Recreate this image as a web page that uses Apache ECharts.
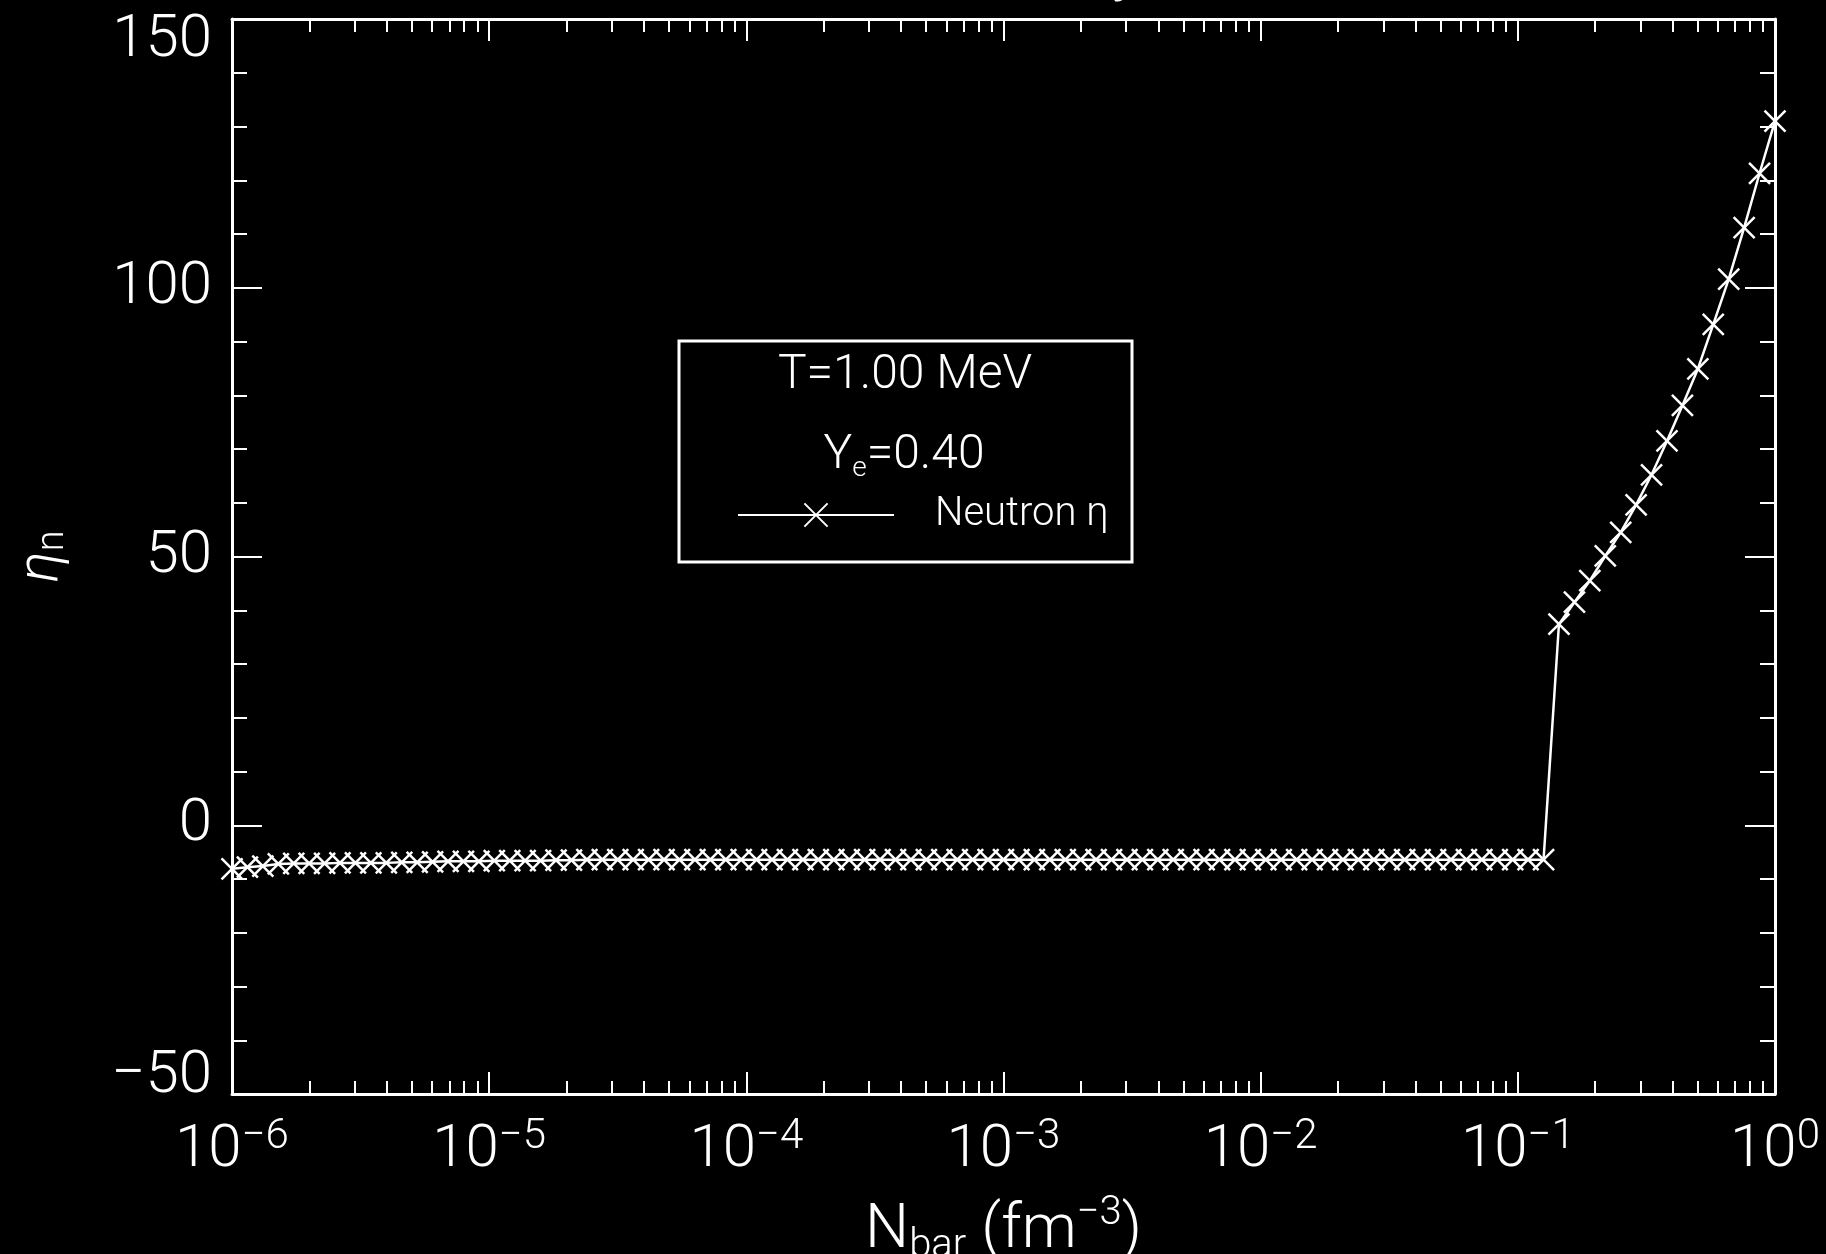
<!DOCTYPE html>
<html>
<head>
<meta charset="utf-8">
<script src="https://cdn.jsdelivr.net/npm/echarts@6/dist/echarts.min.js"></script>
<style>
  html, body { margin: 0; padding: 0; background: #000; }
  #chart { width: 1826px; height: 1254px; }
</style>
</head>
<body>
<div id="chart"></div>
<script>
// Baryon number density grid (fm^-3)
const nbar = [
  1.000e-6, 1.148e-6, 1.318e-6, 1.514e-6, 1.738e-6, 1.995e-6, 2.291e-6, 2.630e-6, 3.020e-6, 3.467e-6,
  3.981e-6, 4.571e-6, 5.248e-6, 6.026e-6, 6.918e-6, 7.943e-6, 9.120e-6, 1.047e-5, 1.202e-5, 1.380e-5,
  1.585e-5, 1.820e-5, 2.089e-5, 2.399e-5, 2.754e-5, 3.162e-5, 3.631e-5, 4.169e-5, 4.786e-5, 5.495e-5,
  6.310e-5, 7.244e-5, 8.318e-5, 9.550e-5, 1.096e-4, 1.259e-4, 1.445e-4, 1.660e-4, 1.905e-4, 2.188e-4,
  2.512e-4, 2.884e-4, 3.311e-4, 3.802e-4, 4.365e-4, 5.012e-4, 5.754e-4, 6.607e-4, 7.586e-4, 8.710e-4,
  1.000e-3, 1.148e-3, 1.318e-3, 1.514e-3, 1.738e-3, 1.995e-3, 2.291e-3, 2.630e-3, 3.020e-3, 3.467e-3,
  3.981e-3, 4.571e-3, 5.248e-3, 6.026e-3, 6.918e-3, 7.943e-3, 9.120e-3, 1.047e-2, 1.202e-2, 1.380e-2,
  1.585e-2, 1.820e-2, 2.089e-2, 2.399e-2, 2.754e-2, 3.162e-2, 3.631e-2, 4.169e-2, 4.786e-2, 5.495e-2,
  6.310e-2, 7.244e-2, 8.318e-2, 9.550e-2, 1.096e-1, 1.259e-1, 1.445e-1, 1.660e-1, 1.905e-1, 2.188e-1,
  2.512e-1, 2.884e-1, 3.311e-1, 3.802e-1, 4.365e-1, 5.012e-1, 5.754e-1, 6.607e-1, 7.586e-1, 8.710e-1,
  1.000
];

// Neutron degeneracy parameter eta_n at each density
const etaN = [
  -8.1, -7.8, -7.6, -7.2, -7.1, -7.1, -7.1, -7.0, -7.0, -7.0,
  -7.0, -6.9, -6.9, -6.8, -6.7, -6.7, -6.7, -6.6, -6.6, -6.6,
  -6.6, -6.5, -6.5, -6.4, -6.4, -6.4, -6.4, -6.4, -6.4, -6.4,
  -6.4, -6.4, -6.4, -6.4, -6.4, -6.4, -6.4, -6.4, -6.4, -6.4,
  -6.4, -6.4, -6.4, -6.4, -6.4, -6.4, -6.4, -6.4, -6.4, -6.4,
  -6.4, -6.4, -6.4, -6.4, -6.4, -6.4, -6.4, -6.4, -6.4, -6.4,
  -6.4, -6.4, -6.4, -6.4, -6.4, -6.4, -6.4, -6.4, -6.4, -6.4,
  -6.4, -6.4, -6.4, -6.4, -6.4, -6.4, -6.4, -6.4, -6.4, -6.4,
  -6.4, -6.4, -6.4, -6.4, -6.4, -6.4, 37.4, 41.5, 45.5, 50.1,
  54.5, 59.6, 65.2, 71.5, 78.1, 84.9, 93.2, 101.6, 111.2, 121.3,
  131.0
];

// Decade tick labels on the density axis: exponent text per decade
const xTickExponents = ['−6', '−5', '−4', '−3', '−2', '−1', '0'];
const xTickDecades = [-6, -5, -4, -3, -2, -1, 0];

// Value-axis tick labels
const yTickLabels = ['−50', '0', '50', '100', '150'];
const yTickValues = [-50, 0, 50, 100, 150];

const seriesName = 'Neutron η';
const infoTemp = 'T=1.00 MeV';
const infoYe = ['Y', 'e', '=0.40'];
const titleTail = 'y';

const FONT = 'Roboto';
const W = '#ffffff';
// text style for axis/legend rich tokens (ECharts label style)
const txt = (size, extra) => Object.assign({
  fontFamily: FONT, fontWeight: 300, fontSize: size, color: W
}, extra || {});
// text style for graphic rich tokens (zrender style)
const gtxt = (size, extra) => Object.assign({
  fontFamily: FONT, fontWeight: 300, fontSize: size, fill: W
}, extra || {});

const chart = echarts.init(document.getElementById('chart'), null, { renderer: 'canvas' });

function xLabel(v) {
  const e = Math.round(Math.log10(v));
  const i = xTickDecades.indexOf(e);
  return '{m|10}{s|' + xTickExponents[i] + '}';
}
function yLabel(v) {
  const i = yTickValues.indexOf(v);
  const t = i >= 0 ? yTickLabels[i] : String(v);
  if (v === 150) return '{top|' + t + '}';
  if (v === -50) return '{bot|' + t + '}';
  return '{n|' + t + '}';
}

const xTickCommon = {
  axisLine: { show: true, onZero: false, lineStyle: { color: W, width: 3 } },
  axisTick: { show: true, inside: true, length: 22, lineStyle: { color: W, width: 2 } },
  minorTick: { show: true, splitNumber: 9, length: 13, lineStyle: { color: W, width: 2 } },
  splitLine: { show: false },
  minorSplitLine: { show: false }
};
const yTickCommon = {
  axisLine: { show: true, onZero: false, lineStyle: { color: W, width: 3 } },
  axisTick: { show: true, inside: true, length: 30, lineStyle: { color: W, width: 2 } },
  minorTick: { show: true, splitNumber: 5, length: 15, lineStyle: { color: W, width: 2 } },
  splitLine: { show: false },
  minorSplitLine: { show: false }
};

const option = {
  backgroundColor: '#000000',
  animation: false,
  grid: {
    left: 232, right: 51, top: 19, bottom: 160,
    containLabel: false, outerBoundsMode: 'none'
  },
  xAxis: [
    Object.assign({
      type: 'log', logBase: 10, min: 1e-6, max: 1, position: 'bottom',
      axisLabel: {
        margin: 27,
        formatter: xLabel,
        rich: {
          m: txt(60, { lineHeight: 60 }),
          s: txt(42, { lineHeight: 42, padding: [0, 0, 28, 0] })
        }
      },
      name: '{m|N}{sub|bar}{m| (fm}{sup|−3}{m|)}',
      nameLocation: 'middle',
      nameGap: 104,
      nameTextStyle: {
        rich: {
          m: txt(62, { lineHeight: 66 }),
          sub: txt(40, { lineHeight: 40, padding: [32, 0, 0, 0] }),
          sup: txt(40, { lineHeight: 40, padding: [0, 0, 34, 0] })
        }
      }
    }, xTickCommon),
    Object.assign({
      type: 'log', logBase: 10, min: 1e-6, max: 1, position: 'top',
      axisLabel: { show: false }
    }, xTickCommon)
  ],
  yAxis: [
    Object.assign({
      type: 'value', min: -50, max: 150, interval: 50, position: 'left',
      axisLabel: {
        margin: 20,
        formatter: yLabel,
        rich: {
          n: txt(60, { lineHeight: 60 }),
          top: txt(60, { lineHeight: 60, padding: [44, 0, 0, 0] }),
          bot: txt(60, { lineHeight: 60, padding: [0, 0, 34, 0] })
        }
      },
      name: '{m|η}{sub|n}',
      nameLocation: 'middle',
      nameRotate: 90,
      nameGap: 160,
      nameTextStyle: {
        rich: {
          m: txt(58, { lineHeight: 60, fontStyle: 'italic' }),
          sub: txt(38, { lineHeight: 38, padding: [22, 0, 0, 0] })
        }
      }
    }, yTickCommon),
    Object.assign({
      type: 'value', min: -50, max: 150, interval: 50, position: 'right',
      axisLabel: { show: false }
    }, yTickCommon)
  ],
  legend: {
    show: true,
    left: 732,
    top: 490,
    itemWidth: 156,
    itemHeight: 29,
    selectedMode: false,
    data: [seriesName],
    formatter: n => '{t|' + n + '}',
    textStyle: {
      color: W,
      rich: { t: txt(40, { padding: [0, 0, 0, 36] }) }
    }
  },
  graphic: [
    {
      type: 'rect', silent: true,
      shape: { x: 679, y: 341, width: 453, height: 221 },
      style: { fill: null, stroke: W, lineWidth: 3 }
    },
    {
      type: 'text', silent: true, x: 905, y: 376,
      style: {
        text: infoTemp, fill: W, align: 'center', verticalAlign: 'middle',
        fontFamily: FONT, fontWeight: 300, fontSize: 48
      }
    },
    {
      type: 'text', silent: true, x: 904, y: 456,
      style: {
        text: '{m|' + infoYe[0] + '}{s|' + infoYe[1] + '}{m|' + infoYe[2] + '}',
        align: 'center', verticalAlign: 'middle',
        rich: {
          m: gtxt(48, { lineHeight: 52 }),
          s: gtxt(28, { lineHeight: 28, padding: [26, 0, 0, 0] })
        }
      }
    },
    {
      type: 'text', silent: true, x: 1112, y: -56,
      style: {
        text: titleTail, fill: W, align: 'left', verticalAlign: 'top',
        fontFamily: FONT, fontWeight: 300, fontSize: 60
      }
    }
  ],
  series: [
    {
      name: seriesName,
      type: 'line',
      xAxisIndex: 0,
      yAxisIndex: 0,
      data: nbar.map((x, i) => [x, etaN[i]]),
      symbol: 'path://M0,0L10,10M10,0L0,10',
      symbolSize: 21,
      showSymbol: true,
      clip: true,
      itemStyle: { color: W, borderColor: W, borderWidth: 2.5 },
      lineStyle: { color: W, width: 2.5 },
      emphasis: { disabled: true }
    }
  ]
};

chart.setOption(option);
</script>
</body>
</html>
